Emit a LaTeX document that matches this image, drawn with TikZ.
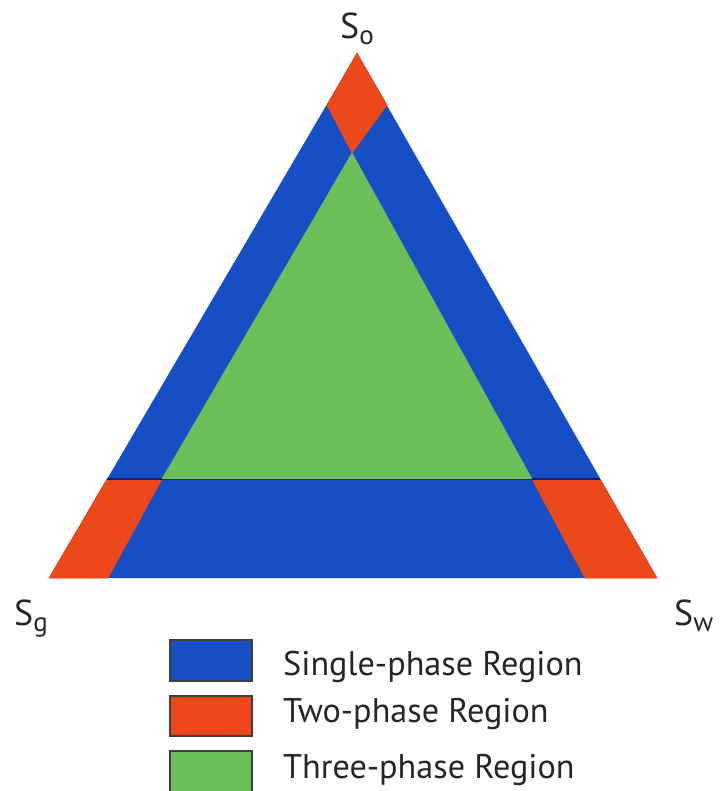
\documentclass[tikz,border=0pt]{standalone}
\usepackage{fontspec}
\setmainfont{PT Sans}
\definecolor{onephase}{RGB}{22,78,198}
\definecolor{twophase}{RGB}{236,72,26}
\definecolor{threephase}{RGB}{108,190,88}
\definecolor{seam}{RGB}{20,30,120}
\tikzset{
  region/.style={line width=0.6pt, draw=#1, fill=#1},
  keybox/.style={draw=black!75, line width=1.2pt},
  corner/.style={inner sep=0pt, anchor=base west, font=\fontsize{36}{38}\selectfont, text=black!85},
  keytext/.style={inner sep=0pt, anchor=base west, font=\fontsize{34.2}{36}\selectfont, text=black!85},
}
\newcommand{\phaseidx}[1]{\raisebox{-6pt}{\fontsize{27}{29}\selectfont #1}}
\begin{document}
\begin{tikzpicture}[x=1pt,y=-1pt]
  \useasboundingbox (0,0) rectangle (723,791);
  \clip (0,0) rectangle (723,791);
  % outer triangle vertices
  \coordinate (A) at (357,53);
  \coordinate (L) at (49,578);
  \coordinate (R) at (657,578);
  % three-phase core
  \coordinate (G1) at (352,153);
  \coordinate (G2) at (162,479);
  \coordinate (G3) at (532,479);
  % two-phase corners
  \coordinate (P) at (327,105);
  \coordinate (Q) at (387,105);
  \coordinate (BL1) at (107,479);
  \coordinate (BL2) at (108,578);
  \coordinate (BR1) at (600,479);
  \coordinate (BR2) at (585,578);

  \fill[onephase] (A) -- (L) -- (R) -- cycle;
  \filldraw[region=threephase] (G1) -- (G2) -- (G3) -- cycle;
  \filldraw[region=twophase] (A) -- (P) -- (G1) -- (Q) -- cycle;
  \filldraw[region=twophase] (BL1) -- (G2) -- (BL2) -- (L) -- cycle;
  \filldraw[region=twophase] (G3) -- (BR1) -- (R) -- (BR2) -- cycle;
  \draw[seam, line width=1.6pt] (BL1) -- (G2);
  \draw[seam, line width=1.6pt] (G3) -- (BR1);
  \draw[seam!60!onephase, line width=1pt] (G2) -- (G3);

  % corner labels
  \node[corner] (so) at (340,39) {S\phaseidx{o}};
  \node[corner] (sg) at (14,625) {S\phaseidx{g}};
  \node[corner] (sw) at (674,625) {S\phaseidx{w}};

  % legend
  \draw[keybox, fill=onephase] (170,640) rectangle (252,681);
  \draw[keybox, fill=twophase] (170,696) rectangle (252,736);
  \draw[keybox, fill=threephase] (170,751) rectangle (252,800);
  \node[keytext] (k1) at (283,675) {Single-phase Region};
  \node[keytext] (k2) at (283,722) {Two-phase Region};
  \node[keytext] (k3) at (283,778) {Three-phase Region};
\end{tikzpicture}
\end{document}
